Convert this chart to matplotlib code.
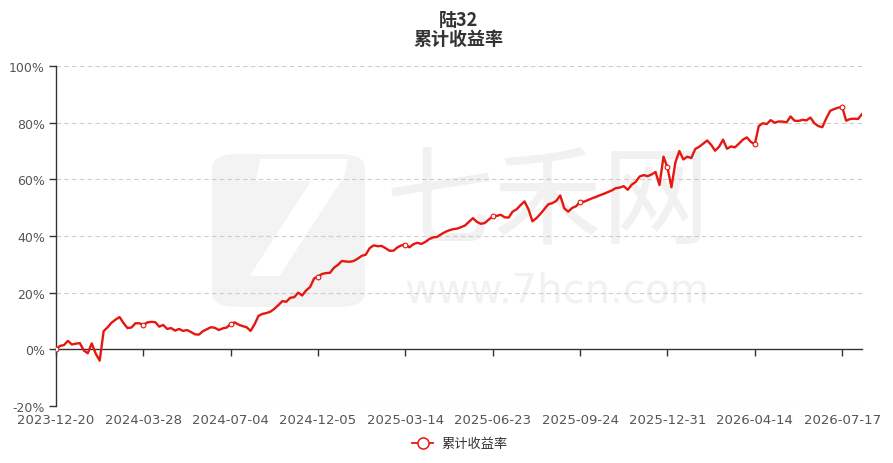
import matplotlib
matplotlib.use('Agg')
import matplotlib.pyplot as plt
from matplotlib.transforms import blended_transform_factory
from matplotlib.patches import FancyBboxPatch
from matplotlib.lines import Line2D

plt.rcParams['font.family'] = ['DejaVu Sans', 'Noto Sans CJK SC']

# ---- data ----
title_main = '陆32'
title_sub = '累计收益率'
series_name = '累计收益率'
tick_labels = ['2023-12-20', '2024-03-28', '2024-07-04', '2024-12-05', '2025-03-14',
               '2025-06-23', '2025-09-24', '2025-12-31', '2026-04-14', '2026-07-17']
label_step = 22  # number of data points between two labelled dates

cum_return = [
    0.0, 1.2, 1.5, 3.0, 1.7, 2.0, 2.2, -0.4, -1.4, 2.1,
    -1.5, -4.0, 6.4, 7.8, 9.4, 10.5, 11.4, 9.3, 7.5, 7.7,
    9.2, 9.2, 8.6, 9.5, 9.7, 9.6, 8.0, 8.6, 7.2, 7.5,
    6.6, 7.2, 6.5, 6.8, 6.1, 5.3, 5.2, 6.4, 7.1, 7.8,
    7.6, 6.8, 7.4, 7.7, 9.0, 9.5, 8.7, 8.2, 7.8, 6.5,
    8.8, 11.8, 12.5, 12.8, 13.3, 14.3, 15.6, 17.0, 16.8, 18.2,
    18.4, 20.0, 19.0, 20.8, 22.0, 25.0, 25.7, 26.6, 26.9, 27.0,
    28.8, 29.8, 31.2, 31.0, 30.9, 31.2, 32.0, 33.0, 33.4, 35.7,
    36.7, 36.4, 36.5, 35.7, 34.8, 34.8, 36.0, 36.7, 37.0, 36.0,
    37.1, 37.6, 37.2, 37.9, 38.9, 39.5, 39.7, 40.6, 41.4, 42.0,
    42.4, 42.6, 43.1, 43.7, 45.0, 46.3, 45.0, 44.3, 44.6, 45.8,
    47.0, 47.1, 47.5, 46.6, 46.5, 48.6, 49.4, 50.9, 52.2, 49.4,
    45.2, 46.3, 47.8, 49.5, 51.2, 51.6, 52.4, 54.3, 49.8, 48.6,
    49.9, 50.5, 52.1, 52.1, 52.7, 53.3, 53.8, 54.4, 54.9, 55.5,
    56.1, 56.9, 57.1, 57.6, 56.3, 58.1, 59.1, 61.0, 61.5, 61.1,
    61.7, 62.6, 58.0, 68.0, 64.2, 57.2, 66.0, 70.0, 67.0, 68.0,
    67.5, 70.7, 71.5, 72.6, 73.7, 72.2, 70.1, 71.5, 74.0, 70.8,
    71.6, 71.3, 72.6, 74.0, 74.8, 73.2, 72.4, 78.8, 79.8, 79.5,
    80.9, 80.0, 80.4, 80.4, 80.1, 82.2, 80.7, 80.6, 81.0, 80.8,
    81.8, 79.8, 78.8, 78.4, 81.5, 84.2, 84.8, 85.3, 85.6, 80.7,
    81.3, 81.4, 81.3, 83.0,
]
y_ticks = [-20, 0, 20, 40, 60, 80, 100]

# ---- figure ----
W, H = 893, 464
fig = plt.figure(figsize=(W / 100, H / 100), dpi=100)
fig.patch.set_facecolor('white')

# watermark (behind everything)
wm_color = '#f3f3f3'
logo = FancyBboxPatch((212 / W, 1 - 308 / H), 153 / W, 153 / H,
                      boxstyle='round,pad=0,rounding_size=0.03',
                      transform=fig.transFigure, facecolor=wm_color,
                      edgecolor='none', zorder=-2)
fig.patches.append(logo)
fig.text(292 / W, 1 - 232 / H, '7', fontsize=115, fontweight='bold', style='italic',
         color='white', ha='center', va='center', zorder=-1)
fig.text(548 / W, 1 - 205 / H, '七禾网', fontsize=78, color='#f1f1f1',
         family=['Noto Sans CJK SC'], ha='center', va='center', zorder=-1)
fig.text(557 / W, 1 - 292 / H, 'www.7hcn.com', fontsize=29, color='#f1f1f1',
         ha='center', va='center', zorder=-1)

ax = fig.add_axes([56 / W, 1 - 407 / H, 806 / W, 340 / H])
ax.patch.set_alpha(0)

red = '#e5170f'
x = list(range(len(cum_return)))
ax.plot(x, cum_return, color=red, lw=1.7, marker='o', markevery=label_step,
        markersize=3.4, markerfacecolor='white', markeredgecolor=red,
        markeredgewidth=0.8, solid_joinstyle='round', zorder=3, label=series_name)

ax.set_xlim(0, len(cum_return) - 1)
ax.set_ylim(-20, 100)

# y axis
ax.set_yticks(y_ticks)
ax.set_yticklabels([f'{v}%' for v in y_ticks])
ax.tick_params(axis='y', length=5, width=1, color='#333333', labelcolor='#555555',
               labelsize=9, pad=3)
for v in y_ticks:
    if v != 0:
        ax.axhline(v, color='#cccccc', lw=0.8, linestyle=(0, (4, 3)), zorder=1)

# x axis at zero
for s in ['top', 'right']:
    ax.spines[s].set_visible(False)
ax.spines['left'].set_color('#333333')
ax.spines['left'].set_linewidth(1.0)
ax.spines['bottom'].set_position(('data', 0))
ax.spines['bottom'].set_color('#333333')
ax.spines['bottom'].set_linewidth(1.0)
tick_pos = [i * label_step for i in range(len(tick_labels))]
ax.set_xticks(tick_pos)
ax.tick_params(axis='x', length=5, width=1, color='#333333', labelbottom=False)
trans = blended_transform_factory(ax.transData, ax.transAxes)
for p, lab in zip(tick_pos, tick_labels):
    ax.text(p, -14 / 340, lab, transform=trans, ha='center', va='center',
            fontsize=9.5, color='#555555', clip_on=False)

# title
fig.text(458 / W, 1 - 20 / H, title_main, ha='center', va='center', fontsize=13,
         fontweight='bold', color='#333333', family=['Noto Sans CJK SC'])
fig.text(458 / W, 1 - 39 / H, title_sub, ha='center', va='center', fontsize=13,
         fontweight='bold', color='#333333', family=['Noto Sans CJK SC'])

# legend
handle = Line2D([], [], color=red, lw=1.3, marker='o', markersize=8,
                markerfacecolor='white', markeredgecolor=red, markeredgewidth=1.1)
fig.legend([handle], [series_name], loc='center', bbox_to_anchor=(460 / W, 1 - 445 / H),
           frameon=False, handlelength=1.6, handletextpad=0.6,
           prop={'family': ['Noto Sans CJK SC'], 'size': 9.5}, labelcolor='#333333')

fig.savefig('out.png', dpi=100, facecolor='white')
